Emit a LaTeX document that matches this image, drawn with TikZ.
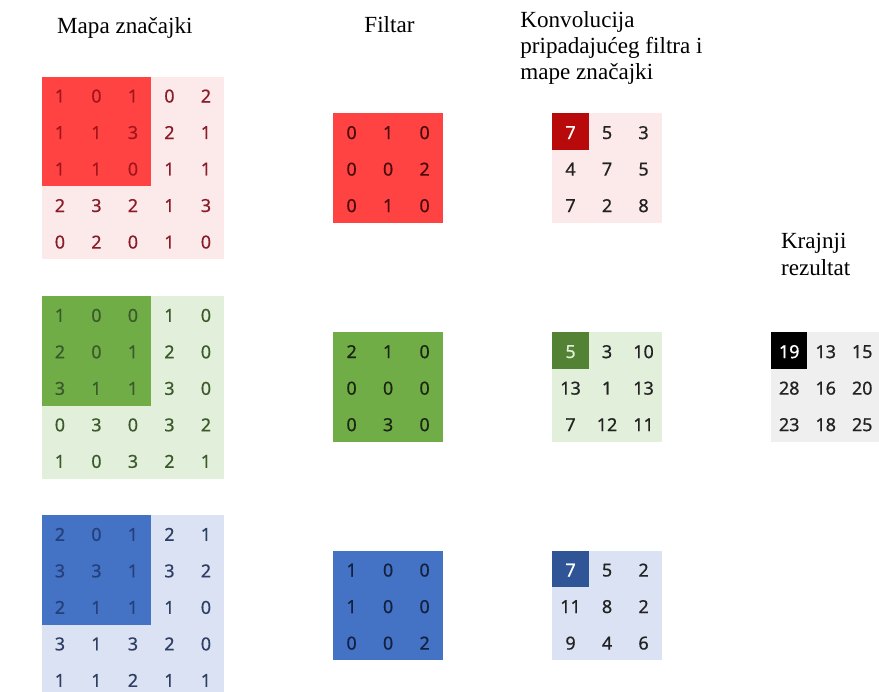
\documentclass[tikz,border=0pt]{standalone}
\usepackage{fontspec}
\setmainfont{Liberation Serif}
\newfontfamily\digitfont{Noto Sans}[FakeBold=0.6]

\definecolor{redL}{HTML}{FCEAEA}
\definecolor{redM}{HTML}{FF4343}
\definecolor{redD}{HTML}{B80A0A}
\definecolor{redT}{HTML}{8A1C2A}
\definecolor{redTM}{HTML}{A3141C}
\definecolor{redTF}{HTML}{4A0A0A}
\definecolor{greenL}{HTML}{E2EFDA}
\definecolor{greenM}{HTML}{70AD47}
\definecolor{greenD}{HTML}{548235}
\definecolor{greenT}{HTML}{3B5A2C}
\definecolor{greenTF}{HTML}{1A2612}
\definecolor{blueL}{HTML}{DAE2F3}
\definecolor{blueM}{HTML}{4472C4}
\definecolor{blueD}{HTML}{2F5597}
\definecolor{blueT}{HTML}{2E3F63}
\definecolor{blueTM}{HTML}{24407A}
\definecolor{blueTF}{HTML}{13203F}
\definecolor{grayL}{HTML}{EFEFEF}
\definecolor{numT}{HTML}{222222}

\tikzset{
  cell/.style={inner sep=0pt, font=\digitfont\fontsize{14}{16}\selectfont},
  heading/.style={inner sep=0pt, font=\fontsize{18}{20.5}\selectfont, align=left}
}

% #1 name, #2 corner, #3 size, #4 marked size, #5 fill, #6 marked fill,
% #7 text, #8 marked text, #9 rows
\newcommand{\numgrid}[9]{%
  \begin{scope}[shift={(#2)}]
    \fill[#5] (0,0) rectangle (#3,-#3);
    \fill[#6] (0,0) rectangle (#4,-#4);
    \foreach \vals [count=\ri] in {#9} {
      \foreach \val [count=\ci] in \vals {
        \ifnum\ri>#4 \def\txtcol{#7}\else\ifnum\ci>#4 \def\txtcol{#7}\else\def\txtcol{#8}\fi\fi
        \node[cell, text=\txtcol] (#1-\ri-\ci) at (\ci-0.5,0.47-\ri) {\val};
      }
    }
  \end{scope}}

\begin{document}
\begin{tikzpicture}
  \clip (0,0) rectangle (24.08,-18.93);

  % headings
  \node[heading, anchor=base west] (hmap) at (1.56,-0.93) {Mapa značajki};
  \node[heading, anchor=base] (hfilt) at (10.67,-0.90) {Filtar};
  \node[heading, anchor=north west] (hconv) at (14.25,-0.30)
       {Konvolucija\\pripadajućeg filtra i\\mape značajki};
  \node[heading, anchor=north west] (hres) at (21.39,-6.39) {Krajnji\\rezultat};

  % red channel
  \numgrid{rmap}{1.142,-2.101}{5}{3}{redL}{redM}{redT}{redTM}
    {{1,0,1,0,2},{1,1,3,2,1},{1,1,0,1,1},{2,3,2,1,3},{0,2,0,1,0}}
  \numgrid{rfilt}{9.132,-3.104}{3}{3}{redM}{redM}{redTF}{redTF}
    {{0,1,0},{0,0,2},{0,1,0}}
  \numgrid{rconv}{15.13,-3.104}{3}{1}{redL}{redD}{numT}{white}
    {{7,5,3},{4,7,5},{7,2,8}}

  % green channel
  \numgrid{gmap}{1.142,-8.110}{5}{3}{greenL}{greenM}{greenT}{greenT}
    {{1,0,0,1,0},{2,0,1,2,0},{3,1,1,3,0},{0,3,0,3,2},{1,0,3,2,1}}
  \numgrid{gfilt}{9.132,-9.104}{3}{3}{greenM}{greenM}{greenTF}{greenTF}
    {{2,1,0},{0,0,0},{0,3,0}}
  \numgrid{gconv}{15.13,-9.104}{3}{1}{greenL}{greenD}{numT}{greenL}
    {{5,3,10},{13,1,13},{7,12,11}}

  % blue channel
  \numgrid{bmap}{1.142,-14.110}{5}{3}{blueL}{blueM}{blueT}{blueTM}
    {{2,0,1,2,1},{3,3,1,3,2},{2,1,1,1,0},{3,1,3,2,0},{1,1,2,1,1}}
  \numgrid{bfilt}{9.132,-15.088}{3}{3}{blueM}{blueM}{blueTF}{blueTF}
    {{1,0,0},{1,0,0},{0,0,2}}
  \numgrid{bconv}{15.13,-15.088}{3}{1}{blueL}{blueD}{numT}{white}
    {{7,5,2},{11,8,2},{9,4,6}}

  % sum of the three
  \numgrid{res}{21.12,-9.104}{3}{1}{grayL}{black}{numT}{white}
    {{19,13,15},{28,16,20},{23,18,25}}
\end{tikzpicture}
\end{document}
